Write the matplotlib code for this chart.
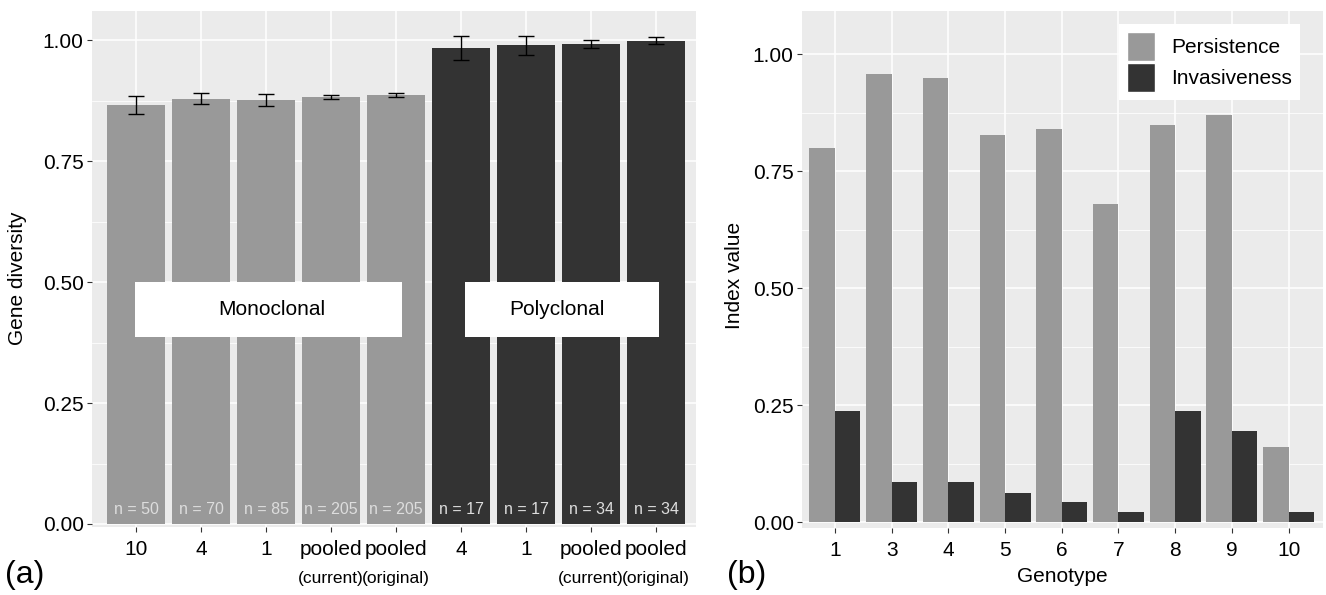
import matplotlib.pyplot as plt
import numpy as np
from matplotlib.patches import Patch, Rectangle
from matplotlib.ticker import MultipleLocator

plt.rcParams["font.family"] = ["Liberation Sans", "DejaVu Sans"]

# (a) gene diversity per sample group
group_labels = ["10", "4", "1", "pooled", "pooled", "4", "1", "pooled", "pooled"]
group_sublabels = ["", "", "", "(current)", "(original)",
                   "", "", "(current)", "(original)"]
clonality = ["Monoclonal"] * 5 + ["Polyclonal"] * 4
gene_diversity = [0.866, 0.879, 0.876, 0.882, 0.887, 0.983, 0.989, 0.992, 0.999]
gene_div_err = [0.019, 0.011, 0.013, 0.004, 0.004, 0.025, 0.019, 0.008, 0.007]
sample_sizes = [50, 70, 85, 205, 205, 17, 17, 34, 34]

# (b) persistence / invasiveness per genotype
genotypes = ["1", "3", "4", "5", "6", "7", "8", "9", "10"]
persistence = [0.800, 0.958, 0.948, 0.828, 0.839, 0.680, 0.849, 0.869, 0.160]
invasiveness = [0.238, 0.085, 0.085, 0.063, 0.042, 0.022, 0.238, 0.195, 0.022]

LIGHT = "#999999"
DARK = "#333333"
PANEL = "#EBEBEB"
FS = 15

# label boxes on panel (a): (text, x0, x1, text x)
group_boxes = [("Monoclonal", -0.015, 4.09, 2.09),
               ("Polyclonal", 5.06, 8.05, 6.48)]


def estilo_gg(ax):
    ax.set_facecolor(PANEL)
    for s in ax.spines.values():
        s.set_visible(False)
    ax.yaxis.set_major_locator(MultipleLocator(0.25))
    ax.yaxis.set_minor_locator(MultipleLocator(0.125))
    ax.grid(which="major", color="white", linewidth=1.1)
    ax.grid(which="minor", axis="y", color="white", linewidth=0.55)
    ax.set_axisbelow(True)
    ax.tick_params(which="major", color="#333333", labelcolor="black",
                   length=3.5, width=0.8, labelsize=FS, pad=2.5)
    ax.tick_params(axis="x", pad=6)
    ax.tick_params(which="minor", length=0)
    ax.yaxis.set_major_formatter(plt.FuncFormatter(lambda v, p: f"{v:.2f}"))


fig = plt.figure(figsize=(13.26, 5.95), dpi=100)

# ---- panel (a)
ax1 = fig.add_axes([92 / 1326, 1 - 527 / 595, 604 / 1326, 516 / 595])
estilo_gg(ax1)
x = np.arange(len(group_labels))
colores = [LIGHT if c == "Monoclonal" else DARK for c in clonality]
ax1.bar(x, gene_diversity, width=0.89, color=colores, zorder=2)
ax1.errorbar(x, gene_diversity, yerr=gene_div_err, fmt="none", ecolor="black",
             elinewidth=1.0, capsize=6, capthick=1.0, zorder=3)
for xi, n in zip(x, sample_sizes):
    ax1.text(xi, 0.03, f"n = {n}", ha="center", va="center",
             color="#DDDDDD", fontsize=11.5, zorder=4)
for texto, x0, x1, xt in group_boxes:
    ax1.add_patch(Rectangle((x0, 0.386), x1 - x0, 0.114, facecolor="white",
                            edgecolor="none", zorder=4))
    ax1.text(xt, 0.443, texto, ha="center", va="center", fontsize=FS, zorder=5)
ax1.set_xticks(x)
ax1.set_xticklabels(group_labels)
for xi, sub in zip(x, group_sublabels):
    if sub:
        ax1.text(xi, -0.099, sub, transform=ax1.get_xaxis_transform(),
                 ha="center", va="center", fontsize=12.5)
ax1.set_xlim(-0.68, 8.615)
ax1.set_ylim(-0.0062, 1.06)
fig.text(18 / 1326, 1 - 278 / 595, "Gene diversity", rotation=90,
         ha="center", va="center", fontsize=FS)
fig.text(5 / 1326, 1 - 575 / 595, "(a)", ha="left", va="center", fontsize=23)

# ---- panel (b)
ax2 = fig.add_axes([802 / 1326, 1 - 528 / 595, 521 / 1326, 517 / 595])
estilo_gg(ax2)
xg = np.arange(len(genotypes))
w = 0.45
ax2.bar(xg - w / 2, persistence, width=w, color=LIGHT, zorder=2)
ax2.bar(xg + w / 2, invasiveness, width=w, color=DARK, zorder=2)
ax2.set_xticks(xg)
ax2.set_xticklabels(genotypes)
ax2.set_xlim(-0.58, 8.607)
ax2.set_ylim(-0.0128, 1.092)
fig.text(735 / 1326, 1 - 275 / 595, "Index value", rotation=90,
         ha="center", va="center", fontsize=FS)
fig.text(1062 / 1326, 1 - 576 / 595, "Genotype", ha="center", va="center",
         fontsize=FS)
fig.text(727 / 1326, 1 - 575 / 595, "(b)", ha="left", va="center", fontsize=23)

handles = [Patch(facecolor=LIGHT, edgecolor="white", linewidth=1.0),
           Patch(facecolor=DARK, edgecolor="white", linewidth=1.0)]
leg = ax2.legend(handles, ["Persistence", "Invasiveness"], loc="upper right",
                 bbox_to_anchor=(0.956, 0.975), fontsize=FS, frameon=True,
                 fancybox=False, framealpha=1, edgecolor="none",
                 handlelength=1.35, handleheight=1.75, labelspacing=0.1,
                 handletextpad=0.75, borderpad=0.4, borderaxespad=0)
leg.get_frame().set_linewidth(0)

fig.savefig("out.png", dpi=100)
